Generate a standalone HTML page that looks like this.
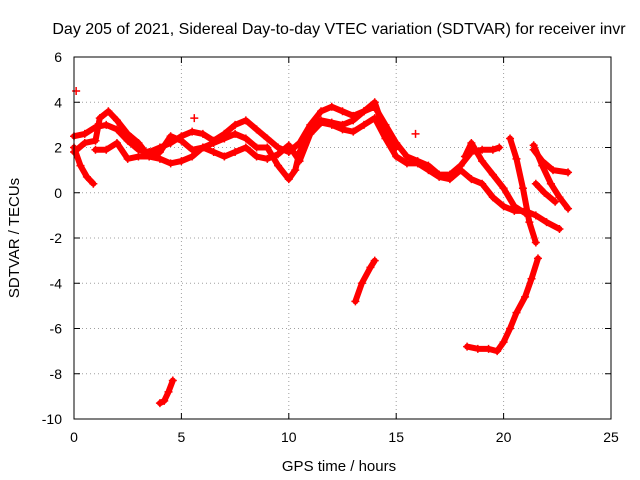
<!DOCTYPE html>
<html><head><meta charset="utf-8"><style>
html,body{margin:0;padding:0;background:#fff;}
svg{display:block;font-family:"Liberation Sans",sans-serif;}
</style></head><body>
<svg id="chart" width="640" height="480">
<text x="339" y="34" text-anchor="middle" font-size="16">Day 205 of 2021, Sidereal Day-to-day VTEC variation (SDTVAR) for receiver invr</text>
<text x="339" y="471" text-anchor="middle" font-size="15">GPS time / hours</text>
<text transform="translate(19,238) rotate(-90)" text-anchor="middle" font-size="15">SDTVAR / TECUs</text>
<g id="grid"></g><g id="marks"></g>
<rect x="74" y="57" width="537" height="362" fill="none" stroke="#000" stroke-width="1"/>
</svg>
<script>
const xTicks=[0,5,10,15,20,25];
const yTicks=[-10,-8,-6,-4,-2,0,2,4,6];
const trackA=[[0,2.5],[0.5,2.6],[1,2.9],[1.5,3.0],[2,2.8],[2.5,2.3],[3,1.9],[3.5,1.8],[4,2.0],[4.5,2.2],[5,2.5],[5.5,2.7],[6,2.6],[6.5,2.3],[7,2.6],[7.5,3.0],[8,3.2],[8.5,2.8],[9,2.4],[9.5,2.0],[10,1.8],[10.5,2.2],[11,3.0],[11.5,3.6],[12,3.8],[12.5,3.6],[13,3.4],[13.5,3.6],[14,3.8],[14.5,3.0],[15,2.2],[15.5,1.6],[16,1.4],[16.5,1.2],[17,0.8],[17.5,0.8],[18,1.2],[18.5,1.8],[19,1.9],[19.5,1.9],[19.8,2.0]];
const trackB=[[1,1.9],[1.5,1.9],[2,2.2],[2.5,1.5],[3,1.6],[3.5,1.6],[4,1.5],[4.5,1.3],[5,1.4],[5.5,1.6],[6,2.0],[6.5,1.8],[7,1.6],[7.5,1.8],[8,2.0],[8.5,1.6],[9,1.5],[9.5,1.7],[10,2.1],[10.5,1.4],[11,2.6],[11.5,3.1],[12,3.0],[12.5,2.8],[13,2.7],[13.5,3.0],[14,3.3],[14.5,2.4],[15,1.6],[15.5,1.3],[16,1.3],[16.5,1.0],[17,0.7],[17.5,0.6],[18,1.0],[18.5,0.6],[19,0.4],[19.5,-0.2],[20,-0.6],[20.5,-0.8],[21,-0.8],[21.5,-1.0],[22,-1.3],[22.6,-1.6]];
const trackC=[[0,1.8],[0.5,2.2],[1,2.3],[1.2,3.3],[1.6,3.6],[2,3.2],[2.5,2.6],[3,2.2],[3.5,1.6],[4,1.8],[4.5,2.5],[5,2.3],[5.5,1.9],[6,2.0],[6.5,2.2],[7,2.4],[7.5,2.6],[8,2.4],[8.5,2.0],[9,2.0],[9.5,1.2],[10,0.6],[10.3,1.0],[10.5,1.8],[11,2.7],[11.5,3.2],[12,3.1],[12.5,3.0],[13,3.2],[13.5,3.6],[14,4.0],[14.5,2.6],[15,2.0]];
const trackD=[[0,2.0],[0.3,1.2],[0.6,0.7],[0.9,0.4]];
const trackE=[[18.2,1.6],[18.5,2.2],[19,1.4],[19.5,0.8],[20,0.2],[20.5,-0.6],[21,-0.9]];
const trackF=[[20.3,2.4],[20.6,1.5],[20.9,0.2],[21.2,-1.3],[21.5,-2.2]];
const trackG=[[21.4,2.1],[21.8,1.2],[22.2,0.4],[22.6,-0.2],[23,-0.7]];
const trackH=[[21.4,1.9],[21.8,1.4],[22.3,1.0],[23,0.9]];
const trackI=[[21.5,0.4],[21.9,0.0],[22.4,-0.4]];
const trackJ=[[4.0,-9.3],[4.2,-9.2],[4.4,-8.8],[4.6,-8.3]];
const trackK=[[13.1,-4.8],[13.4,-4.0],[13.8,-3.3],[14.0,-3.0]];
const trackL=[[18.3,-6.8],[18.8,-6.9],[19.3,-6.9],[19.7,-7.0],[20,-6.6],[20.3,-6.0],[20.6,-5.3],[21.0,-4.6],[21.3,-3.8],[21.6,-2.9]];
const singles=[[0.1,4.5],[5.6,3.3],[15.9,2.6]];
const tracks=[trackA,trackB,trackC,trackD,trackE,trackF,trackG,trackH,trackI,trackJ,trackK,trackL];
const X0=74,X1=611,Y0=419,Y1=57;
const xs=v=>X0+(v-0)/25*(X1-X0);
const ys=v=>Y0-(v+10)/16*(Y0-Y1);
const NS="http://www.w3.org/2000/svg";
const grid=document.getElementById('grid'),marks=document.getElementById('marks');
function mk(t,a,p){const e=document.createElementNS(NS,t);for(const k in a)e.setAttribute(k,a[k]);p.appendChild(e);return e;}
xTicks.forEach(t=>{const x=xs(t);
 if(t>0&&t<25){const g=mk('line',{x1:x,x2:x,y1:Y1,y2:Y0,stroke:'#a0a0a0','stroke-dasharray':'1,3'},grid);}
 mk('line',{x1:x,x2:x,y1:Y0,y2:Y0-6,stroke:'#000'},grid);mk('line',{x1:x,x2:x,y1:Y1,y2:Y1+6,stroke:'#000'},grid);
 const l=mk('text',{x:x,y:Y0+23,'text-anchor':'middle','font-size':14},grid);l.textContent=t;
 });
yTicks.forEach(t=>{const y=ys(t);
 if(t>-10&&t<6){const g=mk('line',{x1:X0,x2:X1,y1:y,y2:y,stroke:'#a0a0a0','stroke-dasharray':'1,3'},grid);}
 mk('line',{x1:X0,x2:X0+6,y1:y,y2:y,stroke:'#000'},grid);mk('line',{x1:X1,x2:X1-6,y1:y,y2:y,stroke:'#000'},grid);
 const l=mk('text',{x:X0-12,y:y+5,'text-anchor':'end','font-size':14},grid);l.textContent=t;
 });
function plus(p){const x=xs(p[0]),y=ys(p[1]);
 const g=mk('path',{d:`M${x-4},${y}h8M${x},${y-4}v8`,stroke:'#f00','stroke-width':1.5},marks);
 }
tracks.forEach(tr=>{const pl=mk('polyline',{points:tr.map(p=>xs(p[0])+','+ys(p[1])).join(' '),fill:'none',stroke:'#f00','stroke-width':6,'stroke-linejoin':'round','stroke-linecap':'round'},marks);
 
 tr.forEach(plus);});
singles.forEach(plus);
</script>
</body></html>
